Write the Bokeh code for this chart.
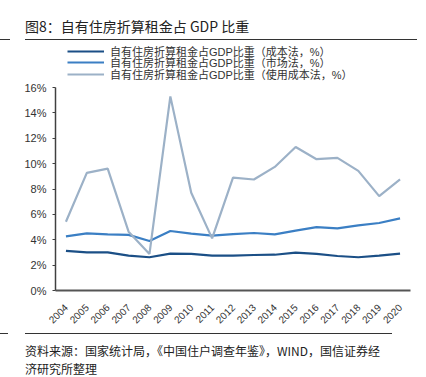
from bokeh.plotting import figure
from bokeh.models import (FactorRange, Range1d, Legend, LegendItem, FixedTicker,
                          CustomJSTickFormatter, Div)
from bokeh.layouts import column
from bokeh.embed import file_html
from bokeh.resources import INLINE
import math

years = [str(y) for y in range(2004, 2021)]
cost_method = [3.12, 3.00, 3.00, 2.75, 2.62, 2.90, 2.88, 2.75, 2.75, 2.80, 2.82, 2.98, 2.88, 2.72, 2.62, 2.75, 2.90]
market_method = [4.27, 4.50, 4.43, 4.38, 3.90, 4.69, 4.48, 4.32, 4.45, 4.53, 4.43, 4.72, 5.00, 4.90, 5.13, 5.32, 5.68]
user_cost_method = [5.42, 9.27, 9.61, 4.64, 2.88, 15.30, 7.70, 4.11, 8.90, 8.75, 9.74, 11.31, 10.35, 10.45, 9.43, 7.44, 8.75]
series_names = ["自有住房折算租金占GDP比重（成本法，%）",
                "自有住房折算租金占GDP比重（市场法，%）",
                "自有住房折算租金占GDP比重（使用成本法，%）"]
series_colors = ["#1B4F86", "#3B7FC4", "#9CB1C7"]
y_ticks = [0, 2, 4, 6, 8, 10, 12, 14, 16]

title_text = "图8：自有住房折算租金占 GDP 比重"
source_line1 = "资料来源：国家统计局，《中国住户调查年鉴》，WIND，国信证券经"
source_line2 = "济研究所整理"

W = 426
TITLE_H = 41
FIG_H = 292
frame_left, frame_right = 55, 410
frame_top_fig = 0
frame_bottom_fig = 249           # canvas y = 290
y16_fig = 87 - TITLE_H
y_top = 16 * (frame_bottom_fig - frame_top_fig) / (frame_bottom_fig - y16_fig)

p = figure(width=W, height=FIG_H, output_backend="svg", toolbar_location=None,
           x_range=FactorRange(*years), y_range=Range1d(0, y_top),
           min_border_left=frame_left, min_border_right=W - frame_right,
           min_border_top=frame_top_fig, min_border_bottom=FIG_H - frame_bottom_fig,
           margin=(0, 0, 0, 0))
p.outline_line_color = None
p.xgrid.grid_line_color = None
p.ygrid.grid_line_color = None
p.background_fill_color = "white"
p.border_fill_color = "white"

renderers = []
for vals, c in zip([cost_method, market_method, user_cost_method], series_colors):
    renderers.append(p.line(years, vals, line_color=c, line_width=2.2))

font = "Liberation Sans, Noto Sans CJK SC"

ya = p.yaxis[0]
ya.bounds = (0, 16)
ya.ticker = FixedTicker(ticks=y_ticks)
ya.formatter = CustomJSTickFormatter(code="return tick + '%';")
ya.axis_line_color = "#404040"
ya.axis_line_width = 1.5
ya.major_tick_line_color = "#404040"
ya.major_tick_out = 3
ya.major_tick_in = 0
ya.minor_tick_line_color = None
ya.major_label_standoff = 6
ya.major_label_text_font = font
ya.major_label_text_font_size = "11px"
ya.major_label_text_color = "#333333"

xa = p.xaxis[0]
xa.axis_line_color = "#555555"
xa.axis_line_width = 2
xa.major_tick_line_color = None
xa.major_tick_out = 0
xa.minor_tick_line_color = None
xa.major_label_orientation = math.pi / 4
xa.major_label_standoff = 15
xa.major_label_text_font = font
xa.major_label_text_font_size = "10px"
xa.major_label_text_color = "#333333"

# one legend per row so that rows sit 12px apart (canvas row centres 50, 62, 74)
row_centres = [51, 62.5, 74]
canvas_frame_bottom = TITLE_H + frame_bottom_fig
for name, r, c in zip(series_names, renderers, row_centres):
    leg = Legend(items=[LegendItem(label=name, renderers=[r])],
                 location=(12, canvas_frame_bottom - (c + 7.5)), orientation="vertical",
                 glyph_width=37, glyph_height=12, label_height=12, label_standoff=6,
                 spacing=0, padding=0, margin=0, border_line_color=None,
                 background_fill_alpha=0, label_text_font=font, label_text_font_size="11px",
                 label_text_color="#333333")
    p.add_layout(leg, "center")

title_div = Div(width=W, height=TITLE_H, margin=(0, 0, 0, 0), text=(
    "<div style=\"width:392px;height:24px;padding:16px 0 0 25px;line-height:20px;"
    "font-size:14px;font-family:'Noto Sans CJK SC';color:#222;white-space:nowrap;box-sizing:content-box;"
    "background:linear-gradient(#333,#333) 0 39px/10px 1px no-repeat,"
    "linear-gradient(#333,#333) 25px 39px/392px 1px no-repeat;\">"
    + title_text + "</div>"))

source_div = Div(width=W, height=377 - TITLE_H - FIG_H, margin=(0, 0, 0, 0), text=(
    "<div style=\"width:392px;padding:9px 0 0 25px;line-height:18px;"
    "font-size:12px;font-family:'Noto Sans CJK SC';color:#222;white-space:nowrap;"
    "background:linear-gradient(#333,#333) 0 0/8px 1px no-repeat,"
    "linear-gradient(#333,#333) 25px 0/392px 1px no-repeat;\">"
    + source_line1 + "<br>" + source_line2 + "</div>"))

layout = column(title_div, p, source_div, spacing=0, margin=(0, 0, 0, 0))
open("out.html", "w").write(file_html(layout, INLINE))
